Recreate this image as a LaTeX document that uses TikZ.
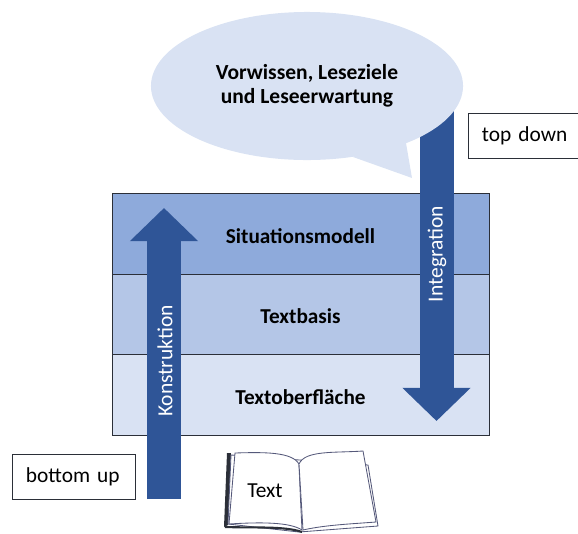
\documentclass[tikz,border=0pt]{standalone}
\usepackage{fontspec}
\setmainfont{Carlito}
\usetikzlibrary{arrows.meta,shapes.geometric}
\definecolor{layerA}{HTML}{8EAADB}
\definecolor{layerB}{HTML}{B4C6E7}
\definecolor{layerC}{HTML}{D9E2F3}
\definecolor{arrowblue}{HTML}{2F5597}
\definecolor{framegray}{HTML}{2B2F38}
\definecolor{pageline}{HTML}{55597A}
\tikzset{layer/.style = {draw=framegray, line width=0.6pt, minimum width=9.425cm, minimum height=2.01cm, inner sep=0pt, text=black, text height=13.4pt, text depth=0pt, font=\fontsize{15.1}{18}\selectfont\bfseries}}
\tikzset{label/.style = {draw=framegray, fill=white, line width=0.6pt, minimum height=1.12cm, inner xsep=0.35cm, inner ysep=0pt, align=left, font=\fontsize{15.2}{18}\selectfont}}
\tikzset{bigarrow/.style = {draw=arrowblue, line width=0.85cm, -{Triangle[length=0.83cm,width=1.66cm]}}}
\tikzset{arrowtext/.style = {rotate=90, text=white, font=\fontsize{15.3}{18}\selectfont}}
\tikzset{page/.style = {draw=pageline, line width=0.6pt, fill=white}}
\begin{document}
\begin{tikzpicture}[x=0.025cm, y=-0.025cm]
\useasboundingbox (0,0) rectangle (578,533);
\clip (0,0) rectangle (578,533);

\node[layer, fill=layerA] (situation) at (300.5,234) {Situationsmodell};
\node[layer, fill=layerB] (basis) at (300.5,314.5) {Textbasis};
\node[layer, fill=layerC] (surface) at (300.5,395) {Textoberfläche};

\coordinate (downstart) at (436.5,100);
\coordinate (downend) at (436.5,421);
\coordinate (upstart) at (164,499);
\coordinate (upend) at (164,208);

\draw[bigarrow] (downstart) -- (downend);
\draw[bigarrow] (upstart) -- (upend);

\node[arrowtext] (integration) at (437,254) {Integration};
\node[arrowtext] (construction) at (165,361) {Konstruktion};

% speech bubble
\fill[layerC] (353,157) -- (412,178) -- (406,143) -- (380,130) -- cycle;
\node[ellipse, fill=layerC, minimum width=7.8cm, minimum height=3.7cm, inner sep=0pt, align=center,
  font=\fontsize{15.3}{17}\selectfont\bfseries] (bubble) at (307,86) {Vorwissen, Leseziele\\und Leseerwartung};

\node[label, text width=2.28cm, anchor=west] (topdown) at (467.5,136) {top down};
\node[label, text width=2.38cm, anchor=west] (bottomup) at (11.5,477) {bottom up};

% book
\fill[framegray] (227,453) -- (231,453) -- (228,525) -- (224,527) -- cycle;
\draw[page] (231,455) -- (228,524) -- (299,532) -- (378,526) -- (368,465) -- cycle;
\draw[page] (235,453) .. controls (265,452) and (292,452) .. (299,464) .. controls (300,490) and (301,510) .. (302,530)
  .. controls (290,522) and (260,522) .. (229,524) -- cycle;
\draw[page] (299,464) .. controls (305,450) and (335,453) .. (363,451) -- (376,522)
  .. controls (350,524) and (325,525) .. (303,530) -- cycle;
\draw[framegray, line width=1.5pt] (225,527) .. controls (255,528) and (285,526) .. (302,532);
\node[font=\fontsize{15.2}{18}\selectfont] (booktext) at (265,491) {Text};
\end{tikzpicture}
\end{document}
